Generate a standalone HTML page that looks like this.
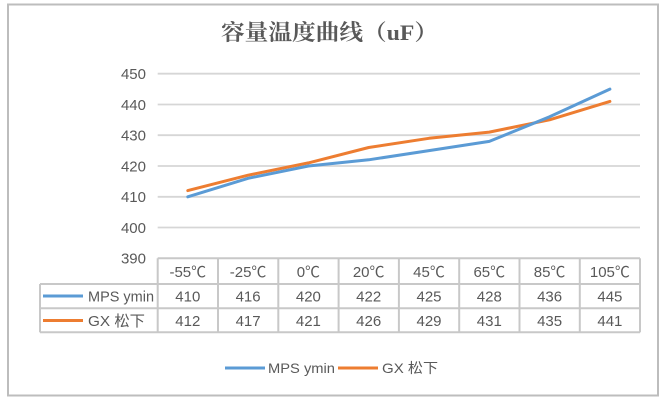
<!DOCTYPE html>
<html>
<head>
<meta charset="utf-8">
<style>
html,body{margin:0;padding:0;background:#fff;}
svg{display:block;}
text{font-family:"Liberation Sans","Noto Sans CJK SC",sans-serif;fill:#595959;}
.t{font-family:"Liberation Serif","Noto Serif CJK SC",serif;font-weight:bold;}
</style>
</head>
<body>
<svg width="669" height="405" viewBox="0 0 669 405" xmlns="http://www.w3.org/2000/svg">
<rect x="0" y="0" width="669" height="405" fill="#fff"/>
<rect x="8" y="4.5" width="650" height="391" fill="#fff" stroke="#bdbdbd" stroke-width="2"/>

<!-- title -->
<text class="t" x="221" y="40" font-size="22" textLength="217" lengthAdjust="spacingAndGlyphs">容量温度曲线（uF）</text>

<!-- gridlines -->
<g stroke="#d6d6d6" stroke-width="1.8">
<line x1="157.7" y1="73.7" x2="640" y2="73.7"/>
<line x1="157.7" y1="104.5" x2="640" y2="104.5"/>
<line x1="157.7" y1="135.2" x2="640" y2="135.2"/>
<line x1="157.7" y1="166" x2="640" y2="166"/>
<line x1="157.7" y1="196.8" x2="640" y2="196.8"/>
<line x1="157.7" y1="227.5" x2="640" y2="227.5"/>
</g>

<!-- y labels -->
<g font-size="15" text-anchor="end">
<text x="146" y="79">450</text>
<text x="146" y="110">440</text>
<text x="146" y="140.5">430</text>
<text x="146" y="171.5">420</text>
<text x="146" y="202">410</text>
<text x="146" y="233">400</text>
<text x="146" y="263.5">390</text>
</g>

<!-- series -->
<polyline fill="none" stroke="#ed7d31" stroke-width="3" stroke-linejoin="round" stroke-linecap="round"
 points="187.8,190.6 248.1,175.2 308.4,162.9 368.7,147.5 429,138.3 489.3,132.1 549.6,119.8 609.9,101.4"/>
<polyline fill="none" stroke="#5b9bd5" stroke-width="3" stroke-linejoin="round" stroke-linecap="round"
 points="187.8,196.8 248.1,178.3 308.4,166 368.7,159.8 429,150.6 489.3,141.4 549.6,116.8 609.9,89.1"/>

<!-- data table -->
<g stroke="#c8c8c8" stroke-width="2">
<line x1="157.7" y1="258.3" x2="640" y2="258.3"/>
<line x1="40" y1="284" x2="640" y2="284"/>
<line x1="40" y1="308.3" x2="640" y2="308.3"/>
<line x1="40" y1="332.3" x2="640" y2="332.3"/>
<line x1="40" y1="284" x2="40" y2="332.3"/>
<line x1="157.7" y1="258.3" x2="157.7" y2="332.3"/>
<line x1="218" y1="258.3" x2="218" y2="332.3"/>
<line x1="278.3" y1="258.3" x2="278.3" y2="332.3"/>
<line x1="338.6" y1="258.3" x2="338.6" y2="332.3"/>
<line x1="398.9" y1="258.3" x2="398.9" y2="332.3"/>
<line x1="459.2" y1="258.3" x2="459.2" y2="332.3"/>
<line x1="519.5" y1="258.3" x2="519.5" y2="332.3"/>
<line x1="579.8" y1="258.3" x2="579.8" y2="332.3"/>
<line x1="640" y1="258.3" x2="640" y2="332.3"/>
</g>

<g font-size="15" text-anchor="middle">
<text x="187.8" y="277">-55℃</text>
<text x="248.1" y="277">-25℃</text>
<text x="308.4" y="277">0℃</text>
<text x="368.7" y="277">20℃</text>
<text x="429" y="277">45℃</text>
<text x="489.3" y="277">65℃</text>
<text x="549.6" y="277">85℃</text>
<text x="609.9" y="277">105℃</text>

<text x="187.8" y="301.5">410</text>
<text x="248.1" y="301.5">416</text>
<text x="308.4" y="301.5">420</text>
<text x="368.7" y="301.5">422</text>
<text x="429" y="301.5">425</text>
<text x="489.3" y="301.5">428</text>
<text x="549.6" y="301.5">436</text>
<text x="609.9" y="301.5">445</text>

<text x="187.8" y="326">412</text>
<text x="248.1" y="326">417</text>
<text x="308.4" y="326">421</text>
<text x="368.7" y="326">426</text>
<text x="429" y="326">429</text>
<text x="489.3" y="326">431</text>
<text x="549.6" y="326">435</text>
<text x="609.9" y="326">441</text>
</g>

<!-- row headers -->
<line x1="43" y1="296" x2="83" y2="296" stroke="#5b9bd5" stroke-width="3"/>
<text x="88" y="301.5" font-size="15" textLength="66" lengthAdjust="spacingAndGlyphs">MPS ymin</text>
<line x1="43" y1="320.5" x2="83" y2="320.5" stroke="#ed7d31" stroke-width="3"/>
<text x="88" y="326" font-size="15" textLength="57" lengthAdjust="spacingAndGlyphs">GX 松下</text>

<!-- legend -->
<line x1="225" y1="368" x2="265" y2="368" stroke="#5b9bd5" stroke-width="3"/>
<text x="268" y="373" font-size="14" textLength="67" lengthAdjust="spacingAndGlyphs">MPS ymin</text>
<line x1="338" y1="368" x2="378" y2="368" stroke="#ed7d31" stroke-width="3"/>
<text x="382" y="373" font-size="14" textLength="56" lengthAdjust="spacingAndGlyphs">GX 松下</text>
</svg>
</body>
</html>
